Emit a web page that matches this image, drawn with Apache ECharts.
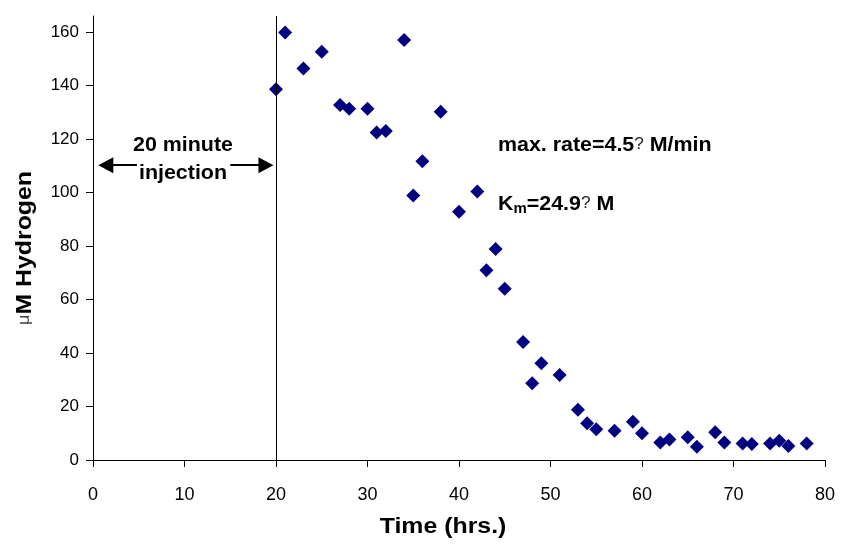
<!DOCTYPE html>
<html>
<head>
<meta charset="utf-8">
<script src="https://cdn.jsdelivr.net/npm/echarts@6/dist/echarts.min.js"></script>
<style>html,body{margin:0;padding:0;background:#fff;}#c{width:841px;height:544px;}</style>
</head>
<body>
<div id="c"></div>
<script>
// Time (hrs.)
var timeHrs = [20, 21, 23, 25, 27, 28, 30, 31, 32, 34, 35, 36, 38, 40, 42, 43, 44, 45, 47, 48, 49, 51, 53, 54, 55, 57, 59, 60, 62, 63, 65, 66, 68, 69, 71, 72, 74, 75, 76, 78];
// µM Hydrogen
var hydrogen = [138.6, 159.8, 146.4, 152.6, 132.7, 131.3, 131.3, 122.4, 123.0, 157.0, 98.9, 111.7, 130.2, 92.8, 100.4, 70.9, 78.9, 64.0, 44.1, 28.7, 36.2, 31.8, 18.8, 13.7, 11.5, 10.9, 14.3, 10.0, 6.5, 7.7, 8.5, 5.0, 10.4, 6.5, 6.2, 6.0, 6.2, 7.2, 5.2, 6.2];
var xTicks = [0, 10, 20, 30, 40, 50, 60, 70, 80];
var yTicks = [0, 20, 40, 60, 80, 100, 120, 140, 160];
var injectionTime = 20;
var arrowLeft = [[4.8, 110.2], [1.4, 110.2]];
var arrowRight = [[15.0, 110.2], [18.9, 110.2]];

var points = timeHrs.map(function (t, i) { return [t, hydrogen[i]]; });
var chart = echarts.init(document.getElementById('c'), null, {renderer: 'canvas'});
var TICKFONT = '"Liberation Sans", Arial, sans-serif';
chart.setOption({
  animation: false,
  backgroundColor: '#ffffff',
  grid: {left: 93, right: 16, top: 16, bottom: 84, containLabel: false},
  xAxis: {
    type: 'value', min: 0, max: 80, interval: 10,
    axisLine: {lineStyle: {color: '#000', width: 1}},
    axisTick: {show: true, inside: false, length: 7, lineStyle: {color: '#000'}},
    axisLabel: {color: '#000', fontFamily: TICKFONT, fontSize: 18, margin: 26},
    splitLine: {show: false}
  },
  yAxis: {
    type: 'value', min: 0, max: 166, interval: 20,
    axisLine: {show: true, lineStyle: {color: '#000', width: 1}},
    axisTick: {show: true, inside: false, length: 7, lineStyle: {color: '#000'}, customValues: yTicks},
    axisLabel: {color: '#000', fontFamily: TICKFONT, fontSize: 17, margin: 14, customValues: yTicks},
    splitLine: {show: false}
  },
  series: [{
    type: 'scatter',
    data: points,
    symbol: 'diamond',
    symbolSize: 14,
    itemStyle: {color: '#000080', opacity: 1},
    markLine: {
      silent: true,
      symbol: ['none', 'none'],
      label: {show: false},
      lineStyle: {color: '#000', width: 1, type: 'solid'},
      data: [{xAxis: injectionTime}]
    }
  }, {
    type: 'line',
    data: [],
    markLine: {
      silent: true,
      symbol: ['none', 'triangle'],
      symbolSize: [16, 15],
      label: {show: false},
      lineStyle: {color: '#000', width: 2, type: 'solid'},
      itemStyle: {color: '#000'},
      data: [
        [{coord: arrowLeft[0]}, {coord: arrowLeft[1]}],
        [{coord: arrowRight[0]}, {coord: arrowRight[1]}]
      ]
    }
  }],
  graphic: [
    {type: 'text', x: 443, y: 527, scaleX: 1.13, style: {text: 'Time (hrs.)', font: 'bold 22px "Liberation Sans"', fill: '#000', align: 'center', verticalAlign: 'middle'}},
    {type: 'text', x: 25, y: 248, rotation: Math.PI / 2, scaleX: 1.13, style: {
      text: '{mu|\u03bc}{b|M Hydrogen}', align: 'center', verticalAlign: 'middle',
      rich: {mu: {font: '16px "Liberation Sans"', fill: '#444'}, b: {font: 'bold 22px "Liberation Sans"', fill: '#000'}}
    }},
    {type: 'text', x: 183, y: 145, scaleX: 1.07, style: {text: '20 minute', font: 'bold 20px "Liberation Sans"', fill: '#000', align: 'center', verticalAlign: 'middle'}},
    {type: 'text', x: 183, y: 173, scaleX: 1.07, style: {text: 'injection', font: 'bold 20px "Liberation Sans"', fill: '#000', align: 'center', verticalAlign: 'middle'}},
    {type: 'text', x: 498, y: 145, scaleX: 1.07, style: {
      text: '{b|max. rate=4.5}{q|?}{b| M/min}', verticalAlign: 'middle',
      rich: {b: {font: 'bold 20px "Liberation Sans"', fill: '#000'}, q: {font: '16px "Liberation Sans"', fill: '#222'}}
    }},
    {type: 'text', x: 498, y: 204, scaleX: 1.07, style: {
      text: '{b|K}{s|m}{b|=24.9}{q|?}{b| M}', verticalAlign: 'middle',
      rich: {
        b: {font: 'bold 20px "Liberation Sans"', fill: '#000', lineHeight: 24},
        s: {font: 'bold 14px "Liberation Sans"', fill: '#000', lineHeight: 14, padding: [12, 0, 0, 0], verticalAlign: 'bottom'},
        q: {font: '16px "Liberation Sans"', fill: '#222', lineHeight: 24}
      }
    }}
  ]
});
</script>
</body>
</html>
